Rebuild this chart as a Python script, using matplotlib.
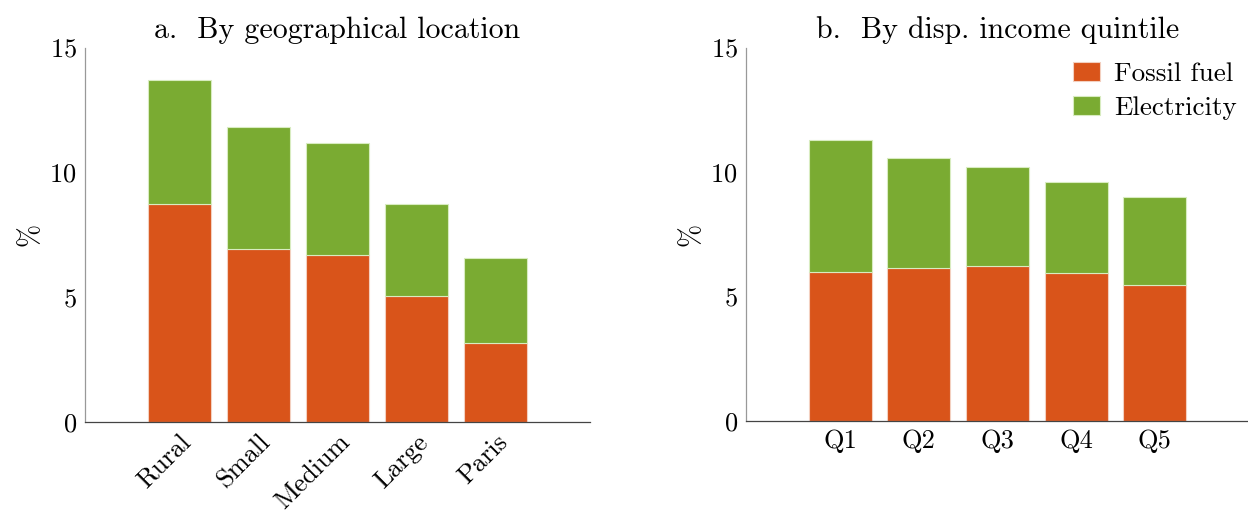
import numpy as np
import matplotlib
matplotlib.use('Agg')
from matplotlib import pyplot as plt

# Computer Modern look (cmr10 ships with matplotlib)
plt.rcParams['font.family'] = ['cmr10', 'DejaVu Serif']
plt.rcParams['mathtext.fontset'] = 'cm'
plt.rcParams['axes.formatter.use_mathtext'] = True

# data
locations = ['Rural', 'Small', 'Medium', 'Large', 'Paris']
loc_fossil = [8.74, 6.93, 6.70, 5.03, 3.16]
loc_total = [13.71, 11.80, 11.19, 8.73, 6.57]

quintiles = ['Q1', 'Q2', 'Q3', 'Q4', 'Q5']
q_fossil = [5.98, 6.15, 6.21, 5.94, 5.48]
q_total = [11.27, 10.55, 10.21, 9.60, 8.98]

loc_elec = [t - f for t, f in zip(loc_total, loc_fossil)]
q_elec = [t - f for t, f in zip(q_total, q_fossil)]

c_fossil = '#d9541a'
c_elec = '#7aab32'

fig = plt.figure(figsize=(12.48, 5.12), dpi=100)
ax1 = fig.add_axes([85 / 1248, 0.176, 505 / 1248, 0.731])
ax2 = fig.add_axes([746 / 1248, 0.178, 503 / 1248, 0.729])


def draw(ax, cats, fossil, elec, title):
    x = np.arange(len(cats))
    ax.bar(x, fossil, width=0.8, color=c_fossil, edgecolor='#f3d0c0', linewidth=0.8, label='Fossil fuel')
    ax.bar(x, elec, width=0.8, bottom=fossil, color=c_elec, edgecolor='#d8ecc0', linewidth=0.8, label='Electricity')
    ax.set_xlim(-1.2, len(cats) - 1 + 1.2)
    ax.set_ylim(0, 15)
    ax.set_yticks([0, 5, 10, 15])
    ax.set_xticks(x)
    ax.set_ylabel('%', fontsize=20)
    ax.set_title(title, fontsize=21.5, pad=7)
    ax.tick_params(length=0, labelsize=19, pad=6)
    ax.spines['top'].set_visible(False)
    ax.spines['right'].set_visible(False)
    ax.spines['left'].set_color('#999999')
    ax.spines['bottom'].set_color('#444444')
    ax.spines['left'].set_linewidth(0.9)
    ax.spines['bottom'].set_linewidth(0.9)


draw(ax1, locations, loc_fossil, loc_elec, 'a.  By geographical location')
ax1.set_xticklabels(locations, rotation=45, ha='right', va='top', rotation_mode='anchor', fontsize=19)

draw(ax2, quintiles, q_fossil, q_elec, 'b.  By disp. income quintile')
ax2.set_xticklabels(quintiles)
ax2.legend(loc='upper right', frameon=False, fontsize=19.5, handlelength=1.0, handleheight=0.7,
           handletextpad=0.5, labelspacing=0.35, borderaxespad=0.0, bbox_to_anchor=(0.997, 0.99))

plt.savefig('out.png', dpi=100)
